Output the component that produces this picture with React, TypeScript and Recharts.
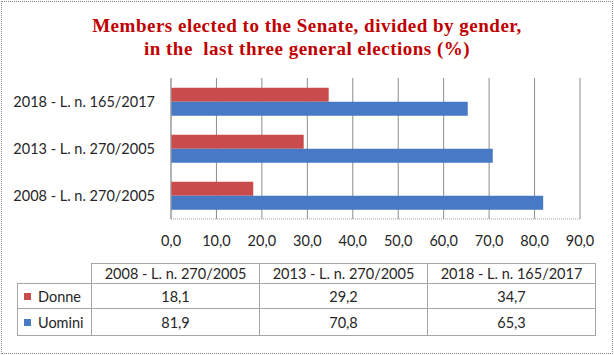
import React from 'react';
import { BarChart, Bar, XAxis, YAxis, CartesianGrid } from 'recharts';

const categories = ['2008 - L. n. 270/2005', '2013 - L. n. 270/2005', '2018 - L. n. 165/2017'];
const donne = [18.1, 29.2, 34.7];
const uomini = [81.9, 70.8, 65.3];
const xTicks = [0, 10, 20, 30, 40, 50, 60, 70, 80, 90];
const titleLines = ['Members elected to the Senate, divided by gender,', 'in the  last three general elections (%)'];

const RED = '#C94B4B';
const BLUE = '#4779C4';
const FONT = 'Lato, "Open Sans", sans-serif';
const FS = 14.5;

const fmt = (v: number) => v.toFixed(1).replace('.', ',');

const data = categories.map((name, i) => ({ name, donne: donne[i], uomini: uomini[i] }));

const series = [
  { key: 'donne', label: 'Donne', color: RED, values: donne },
  { key: 'uomini', label: 'Uomini', color: BLUE, values: uomini },
];

const cellBorder = '1px solid #a6a6a6';

export default function App() {
  return (
    <div
      style={{
        position: 'absolute',
        left: 0,
        top: 0,
        width: 614,
        height: 355,
        background: '#fff',
        fontFamily: FONT,
      }}
    >
      {/* outer frame */}
      <div
        style={{
          position: 'absolute',
          left: 1,
          top: 1,
          width: 610,
          height: 351,
          border: '1px dotted #8a8a8a',
        }}
      />
      {/* title */}
      <div
        style={{
          position: 'absolute',
          left: 0,
          top: 14,
          width: 614,
          textAlign: 'center',
          color: '#C00000',
          fontFamily: '"Liberation Serif", serif',
          fontWeight: 'bold',
          fontSize: 19,
          letterSpacing: 0.5,
          lineHeight: '23px',
        }}
      >
        {titleLines.map((t) => (
          <div key={t} style={{ whiteSpace: 'pre' }}>{t}</div>
        ))}
      </div>

      <div style={{ position: 'absolute', left: 0, top: 0 }}>
        <BarChart
          width={614}
          height={355}
          data={data}
          layout="vertical"
          margin={{ top: 78, right: 34, bottom: 106, left: 0 }}
          barCategoryGap="21%"
          barGap={0}
        >
          <CartesianGrid horizontal={false} stroke="#8c8c8c" />
          <XAxis
            type="number"
            domain={[0, 90]}
            ticks={xTicks}
            tickFormatter={fmt}
            tickLine={false}
            axisLine={{ stroke: '#a0a0a0', strokeDasharray: '1 1' }}
            tick={{ fontSize: FS, fill: '#262626', fontFamily: FONT }}
            tickMargin={11}
            height={30}
            interval={0}
          />
          <YAxis
            type="category"
            dataKey="name"
            reversed
            width={171}
            tickLine={false}
            axisLine={{ stroke: '#a0a0a0' }}
            tick={{ fontSize: FS, fill: '#262626', fontFamily: FONT }}
            tickMargin={10}
          />
          {series.map((s) => (
            <Bar key={s.key} dataKey={s.key} fill={s.color} isAnimationActive={false} />
          ))}
        </BarChart>
      </div>

      {/* data table */}
      <table
        style={{
          position: 'absolute',
          left: 17,
          top: 263,
          borderCollapse: 'collapse',
          fontFamily: FONT,
          fontSize: FS,
          color: '#262626',
          tableLayout: 'fixed',
        }}
      >
        <colgroup>
          <col style={{ width: 74 }} />
          {categories.map((c) => (
            <col key={c} style={{ width: 168 }} />
          ))}
        </colgroup>
        <tbody>
          <tr style={{ height: 20 }}>
            <td style={{ border: 'none', padding: 0 }} />
            {categories.map((c) => (
              <td key={c} style={{ border: cellBorder, textAlign: 'center', padding: 0, lineHeight: '18px' }}>
                {c}
              </td>
            ))}
          </tr>
          {series.map((s, si) => (
            <tr key={s.key} style={{ height: si === 0 ? 25 : 27 }}>
              <td style={{ border: cellBorder, padding: '0 0 0 6px', whiteSpace: 'nowrap' }}>
                <span
                  style={{
                    display: 'inline-block',
                    width: 7,
                    height: 7,
                    background: s.color,
                    marginRight: 7,
                    verticalAlign: 'middle',
                    position: 'relative',
                    top: -1,
                  }}
                />
                {s.label}
              </td>
              {s.values.map((v, i) => (
                <td key={i} style={{ border: cellBorder, textAlign: 'center', padding: 0 }}>
                  {fmt(v)}
                </td>
              ))}
            </tr>
          ))}
        </tbody>
      </table>
    </div>
  );
}
